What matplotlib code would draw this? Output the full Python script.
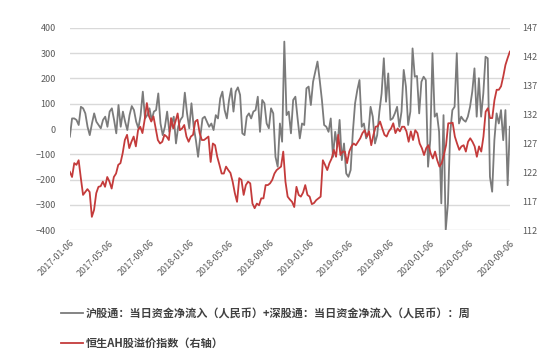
import numpy as np
import pandas as pd
import matplotlib
matplotlib.use('Agg')
from matplotlib import pyplot as plt

plt.rcParams['font.family'] = ['Noto Sans CJK SC', 'DejaVu Sans']

# 沪股通+深股通 weekly net inflow (left axis)
flow = [-30, 42, 42, 36, 16, 88, 82, 62, 9, -24, 22, 62, 29, 16, 3, 36, 49, 9, 69, 82,
        36, -17, 95, 9, 69, 29, -4, 55, 91, 75, 29, 3, 55, 148, 42, 55, 82, 36, 69, 75,
        141, 22, -24, 9, 69, -11, 22, 49, -57, 9, 36, 49, 144, 62, 3, 102, 9, -44, -110, -30,
        42, 49, 29, 9, 22, -4, 55, 42, 121, 148, 75, 42, 115, 161, 69, 148, 165, 135, -17, -24,
        49, 62, 42, 69, 75, 128, -11, 115, 102, 22, 3, 82, 62, -110,
        -149, 22, -50, 346, 55, 69, -17, 115, 128, 42, -37, 22, 16, 161, 168, 95, 187, 227, 267, 194,
        115, 16, 9, -11, 42, -110, -11, -70, 36, -123, -57, -176, -189, -162, -11, 102, 154, 194, 9, 22,
        -37, -17, 88, 49, -57, -24, 69, 141, 280, 108, 220, 36, 42, 62, 88, 9, 69, 234, 168, 16,
        69, 319, 207, 210, 62, 187, 207, 194, -149, -44, 300, 49, 62, -11, -294, 55, -400, -294, -17, 75,
        88, 300, 22, 49, 36, 29, 49, 88, 148, 240, 49, 201, 49, 141, 286, 280, -189, -248, -44, 62,
        22, 75, -44, 75, -222, 9]

# 恒生AH股溢价指数 (right axis)
ah = [122.1, 121.2, 123.6, 123.3, 124.1, 121.0, 118.1, 118.6, 119.1, 118.6,
      114.3, 115.5, 118.4, 119.5, 119.6, 120.4, 119.5, 121.2, 120.4, 119.2,
      121.2, 121.8, 123.3, 123.6, 125.3, 127.6, 128.5, 126.2, 127.3, 128.2,
      126.5, 129.3, 129.9, 128.8, 131.1, 134.0, 131.7, 130.8, 131.7, 129.6,
      127.6, 127.0, 127.3, 128.5, 128.2, 127.6, 131.4, 129.6, 130.8, 132.2,
      129.3, 129.6, 130.2, 128.2, 127.3, 128.2, 128.5, 130.8, 131.1, 128.8,
      127.6, 127.6, 127.9, 128.2, 123.8, 127.0, 126.7, 124.7, 123.3, 121.8,
      121.8, 123.0, 122.4, 121.9, 120.4, 118.4, 116.9, 121.0, 120.7, 118.1,
      119.8, 120.4, 120.1, 116.6, 115.8, 116.6, 116.3, 117.5, 117.5, 119.8,
      119.8, 120.1, 120.7, 121.8, 122.4,
      122.7, 123.0, 125.6, 120.4, 117.8, 117.3, 116.9, 116.0, 119.5, 118.1,
      117.8, 118.5, 119.8, 118.1, 117.8, 116.5, 116.7, 117.2, 117.5, 117.8,
      124.1, 123.3, 122.4, 123.6, 124.4, 125.9, 124.7, 128.5, 125.0, 125.6,
      125.6, 123.6, 125.6, 126.5, 127.0, 126.7, 127.3, 127.9, 128.8, 129.3,
      128.2, 129.1, 126.7, 128.5, 129.9, 130.0, 130.8, 129.6, 128.5, 128.2,
      129.1, 129.6, 130.5, 128.8, 129.6, 129.1, 129.9, 129.9, 129.1, 127.3,
      129.1, 127.6, 129.3, 128.8, 127.0, 126.2, 125.0, 126.2, 126.7, 125.3,
      124.4, 125.6, 124.1, 123.0, 123.6, 125.0, 126.7, 130.5, 130.5, 130.6,
      128.2, 127.0, 125.9, 126.5, 126.7, 125.6, 127.3, 127.9, 127.3, 126.5,
      124.7, 126.5, 125.6, 128.2, 132.5, 133.1, 131.4, 131.4, 134.5, 136.3,
      136.3, 136.9, 138.6, 140.6, 141.8, 142.9]

start = pd.Timestamp('2017-01-06')
end = pd.Timestamp('2020-09-06')
t_flow = pd.date_range(start, end, periods=len(flow))
t_ah = pd.date_range(start, end, periods=len(ah))
ticks = pd.date_range(start, end, freq=pd.DateOffset(months=4))

label_flow = '沪股通：当日资金净流入（人民币）+深股通：当日资金净流入（人民币）：周'
label_ah = '恒生AH股溢价指数（右轴）'

fig = plt.figure(figsize=(5.5, 3.63), dpi=100)
ax = fig.add_axes([0.127, 0.366, 0.8, 0.557])
ax2 = ax.twinx()

l1, = ax.plot(t_flow, flow, c='#7b7b7b', lw=1.3, label=label_flow)
l2, = ax2.plot(t_ah, ah, c='#c43b3b', lw=1.3, label=label_ah)

ax.set_ylim(-400, 400)
ax.set_yticks(range(-400, 401, 100))
ax2.set_ylim(112, 147)
ax2.set_yticks(range(112, 148, 5))
ax.set_xlim(start, end)
ax.set_xticks(ticks)
ax.set_xticklabels([d.strftime('%Y-%m-%d') for d in ticks], rotation=45,
                   ha='right', va='top', rotation_mode='anchor')

ax.grid(axis='y', color='#d9d9d9', lw=1)
ax.set_axisbelow(True)
for a in (ax, ax2):
    for s in a.spines.values():
        s.set_visible(False)
    a.tick_params(length=0, labelsize=6.5, labelcolor='#595959')
ax.tick_params(axis='y', pad=10)
ax.tick_params(axis='x', pad=6)
ax2.tick_params(axis='y', pad=9)

fig.legend(handles=[l1, l2], loc='upper left', bbox_to_anchor=(0.1, 0.17),
           frameon=False, fontsize=8, handlelength=2.0, handletextpad=0.3,
           labelspacing=1.5, borderpad=0, labelcolor='#404040',
           prop={'weight': 'bold', 'size': 8})

fig.savefig('out.png', dpi=100)
